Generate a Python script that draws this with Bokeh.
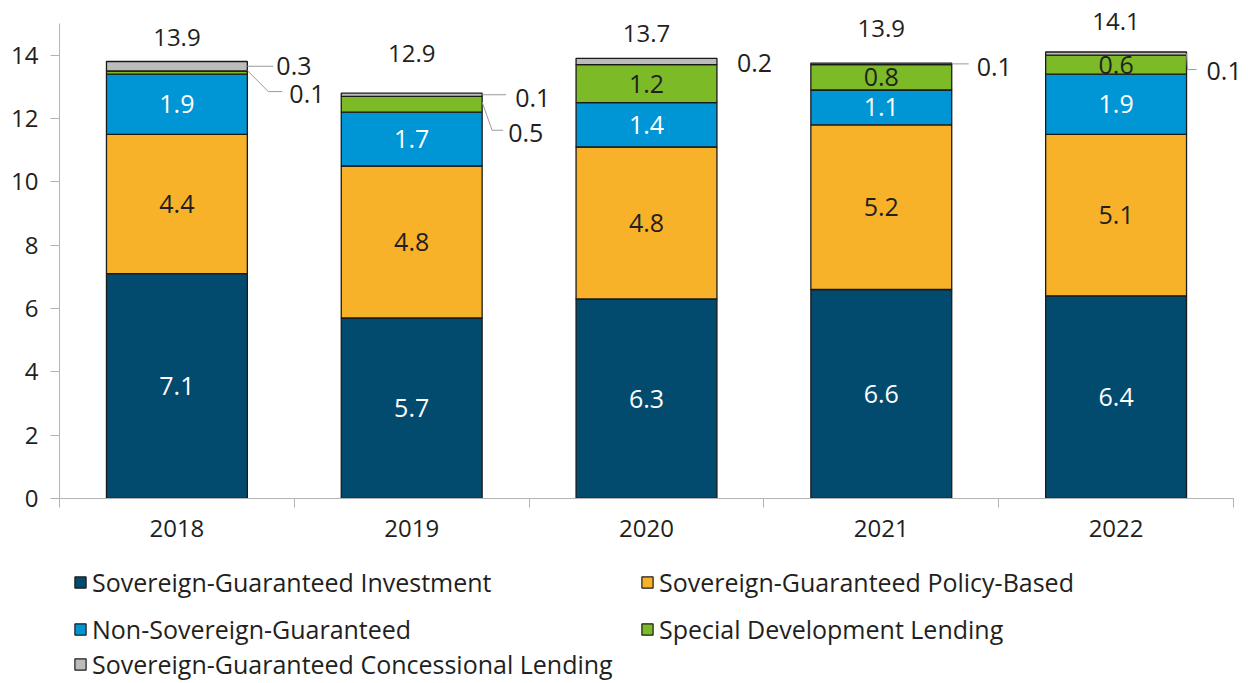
import numpy as np
from bokeh.plotting import figure
from bokeh.layouts import column
from bokeh.models import (ColumnDataSource, Range1d, FixedTicker, Legend, LegendItem)
from bokeh.core.properties import value
from bokeh.embed import file_html
from bokeh.resources import INLINE

# ---------------- data ----------------
years = ["2018", "2019", "2020", "2021", "2022"]
investment = [7.1, 5.7, 6.3, 6.6, 6.4]
policy = [4.4, 4.8, 4.8, 5.2, 5.1]
nonsov = [1.9, 1.7, 1.4, 1.1, 1.9]
special = [0.1, 0.5, 1.2, 0.8, 0.6]
concessional = [0.3, 0.1, 0.2, 0.05, 0.1]
concessional_labels = ["0.3", "0.1", "0.2", "0.1", "0.1"]
special_labels = ["0.1", "0.5", "1.2", "0.8", "0.6"]
total_labels = ["13.9", "12.9", "13.7", "13.9", "14.1"]

series_names = ["Sovereign-Guaranteed Investment", "Sovereign-Guaranteed Policy-Based",
                "Non-Sovereign-Guaranteed", "Special Development Lending",
                "Sovereign-Guaranteed Concessional Lending"]
colors = ["#034b6e", "#f8b229", "#0095d4", "#7dba28", "#bcbcbc"]

# ---------------- layout constants ----------------
FONT = "Open Sans"
TXT = "#231f20"
W = 1246
H1, H2 = 545, 138
BORDER_L, BORDER_R, BORDER_B = 59, 0, 47
FRAME_W = W - BORDER_L - BORDER_R
FRAME_H = H1 - BORDER_B
PXY = 475 / 15.0
PXX = 1174 / 5.0
Y_END = FRAME_H / PXY
X_END = FRAME_W / PXX
BAR_W = 0.6

xs = np.arange(len(years)) + 0.5
keys = ["inv", "pol", "nsg", "sdl", "con"]
vals = [investment, policy, nonsov, special, concessional]
src = ColumnDataSource(dict(x=xs, **{k: v for k, v in zip(keys, vals)}))

p = figure(width=W, height=H1,
           x_range=Range1d(0, X_END), y_range=Range1d(0, Y_END),
           output_backend="svg", toolbar_location=None,
           min_border_left=BORDER_L, min_border_right=BORDER_R, min_border_top=0,
           min_border_bottom=BORDER_B)
p.outline_line_color = None
p.xgrid.visible = False
p.ygrid.visible = False
p.background_fill_color = "white"
p.border_fill_color = "white"

rs = p.vbar_stack(keys, x="x", width=BAR_W, source=src, fill_color=colors,
                  line_color="#1a1a1a", line_width=1.3)

# ---------------- axes ----------------
ya = p.yaxis[0]
ya.ticker = FixedTicker(ticks=list(range(0, 15, 2)), minor_ticks=[])
ya.bounds = (0, 15)
ya.axis_line_color = "#b3b3b3"
ya.major_tick_line_color = "#b3b3b3"
ya.major_tick_out = 9
ya.major_tick_in = 0
ya.major_label_standoff = 12
ya.major_label_text_font = FONT
ya.major_label_text_font_size = "24px"
ya.major_label_text_color = TXT

xa = p.xaxis[0]
xa.ticker = FixedTicker(ticks=list(xs), minor_ticks=list(range(0, 6)))
xa.bounds = (0, 5)
xa.major_label_overrides = {float(x): y for x, y in zip(xs, years)}
xa.axis_line_color = "#b3b3b3"
xa.major_tick_out = 0
xa.major_tick_in = 0
xa.minor_tick_line_color = "#b3b3b3"
xa.minor_tick_out = 9
xa.minor_tick_in = 0
xa.major_label_standoff = 12
xa.major_label_text_font = FONT
xa.major_label_text_font_size = "24px"
xa.major_label_text_color = TXT

# ---------------- segment labels ----------------
cum = np.cumsum(np.array(vals), axis=0)
bottoms = cum - np.array(vals)
centers = (cum + bottoms) / 2
label_texts = [[f"{v:.1f}" for v in investment], [f"{v:.1f}" for v in policy],
               [f"{v:.1f}" for v in nonsov], special_labels]
label_colors = ["white", TXT, "white", TXT]
inside_mask = [[True] * 5, [True] * 5, [True] * 5, [False, False, True, True, True]]
lx, ly, lt, lc = [], [], [], []
for s in range(4):
    for i in range(5):
        if inside_mask[s][i]:
            lx.append(xs[i]); ly.append(centers[s][i]); lt.append(label_texts[s][i]); lc.append(label_colors[s])
p.text(x=lx, y=ly, text=lt, text_color=lc, text_align="center", text_baseline="middle",
       text_font=value(FONT), text_font_size="25px")

# totals
total_lift_px = [24, 40, 25, 35, 31]
p.text(x=list(xs), y=[cum[4][i] + total_lift_px[i] / PXY for i in range(5)], text=total_labels,
       text_color=TXT, text_align="center", text_baseline="middle",
       text_font=value(FONT), text_font_size="24px")

# callouts: (series index, year index, text, leader points px, text offset px)
callouts = [
    (4, 0, concessional_labels[0], [(0, 0), (26, 0)], (29, 0)),
    (3, 0, special_labels[0], [(0, 2), (21, -19), (35, -19)], (42, -21)),
    (4, 1, concessional_labels[1], [(0, 0), (24, 0)], (33, -3)),
    (3, 1, special_labels[1], [(0, 2), (10, -26), (21, -26)], (26, -29)),
    (4, 2, concessional_labels[2], [], (20, -1)),
    (4, 3, concessional_labels[3], [(0, 0), (17, 0)], (25, -3)),
    (4, 4, concessional_labels[4], [(0, 0), (1, -16), (10, -16)], (20, -17)),
]
mxs, mys, cx, cy, ct = [], [], [], [], []
for s, i, t, pts, (tdx, tdy) in callouts:
    x0 = xs[i] + BAR_W / 2
    y0 = centers[s][i]
    if pts:
        mxs.append([x0 + dx / PXX for dx, dy in pts])
        mys.append([y0 + dy / PXY for dx, dy in pts])
    cx.append(x0 + tdx / PXX); cy.append(y0 + tdy / PXY); ct.append(t)
p.multi_line(xs=mxs, ys=mys, line_color="#9a9a9a", line_width=1)
p.text(x=cx, y=cy, text=ct, text_color=TXT, text_align="left", text_baseline="middle",
       text_font=value(FONT), text_font_size="25px")

# ---------------- legend panel (second figure below the chart) ----------------
p2 = figure(width=W, height=H2, x_range=Range1d(0, 1), y_range=Range1d(0, 1),
            output_backend="svg", toolbar_location=None, x_axis_type=None, y_axis_type=None,
            min_border=0)
p2.outline_line_color = None
p2.xgrid.visible = False
p2.ygrid.visible = False
# proxy renderers (placed below the visible range) that give the legend its swatches
proxies = [p2.vbar(x=[0.5], bottom=[-3], top=[-2], width=0.01, fill_color=c,
                   line_color="#1a1a1a", line_width=1.2) for c in colors]

ROW_H = 34
FRAME_OFFSET = 59     # the legend panel's frame is aligned with the chart frame
PANEL_TOP = H1        # page y of the legend panel's top
# (series index, swatch left x on page, row centre y on page)
legend_slots = [(0, 73, 582), (1, 640, 582), (2, 73, 629), (3, 640, 629), (4, 73, 664)]
for k, x0, yc in legend_slots:
    leg = Legend(items=[LegendItem(label=series_names[k], renderers=[proxies[k]])],
                 location=(x0 - FRAME_OFFSET, (PANEL_TOP + H2) - (yc + ROW_H / 2)),
                 orientation="vertical",
                 label_text_font=FONT, label_text_font_size="25px", label_text_color=TXT,
                 glyph_width=14, glyph_height=14, label_standoff=5, label_height=ROW_H,
                 spacing=0, padding=0, margin=0, border_line_color=None,
                 background_fill_alpha=0)
    p2.add_layout(leg, "center")

layout = column(p, p2, spacing=0)
open("out.html", "w").write(file_html(layout, INLINE))
